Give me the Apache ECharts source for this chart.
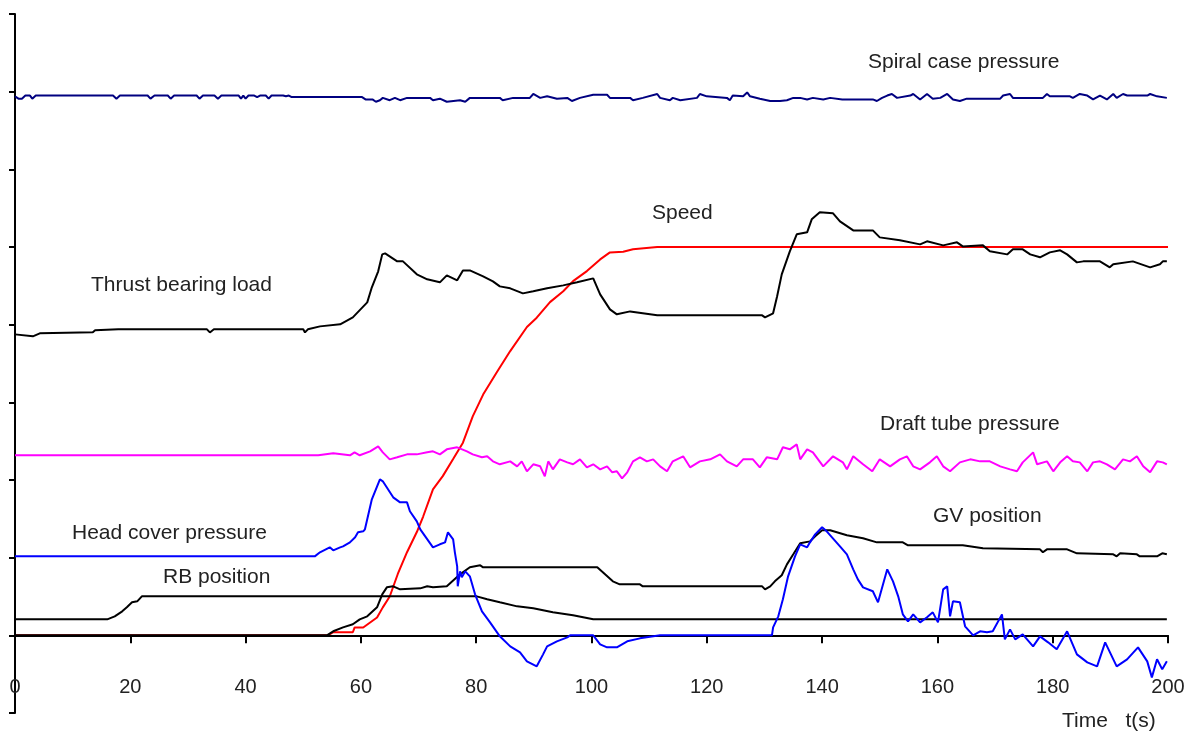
<!DOCTYPE html>
<html>
<head>
<meta charset="utf-8">
<script src="https://cdn.jsdelivr.net/npm/echarts@6/dist/echarts.min.js"></script>
<style>
  html, body { margin: 0; padding: 0; background: #ffffff; }
  #chart { width: 1199px; height: 733px; }
</style>
</head>
<body>
<div id="chart"></div>
<script>
// Time axis ticks (s)
const timeTicks = [0, 20, 40, 60, 80, 100, 120, 140, 160, 180, 200];

// Each record is [time (s), relative level]; one vertical division = 1 unit.
const spiralCasePressure = [
  [0,6.94],[0.6,6.91],[1.2,6.91],[1.8,6.95],[2.6,6.95],[3,6.91],[3.6,6.95],[17,6.95],[17.6,6.91],[18.2,6.95],
  [23,6.95],[23.5,6.91],[24.2,6.95],[26.5,6.95],[27,6.91],[27.6,6.95],[31.5,6.95],[32,6.91],[32.6,6.95],
  [34.6,6.95],[35.2,6.91],[35.8,6.95],[38.8,6.95],[39.2,6.91],[39.6,6.95],[40,6.91],[40.5,6.95],[41.5,6.95],
  [42,6.93],[42.5,6.95],[43.5,6.95],[44,6.91],[44.5,6.95],[46.5,6.95],[47,6.94],[47.5,6.95],[48,6.93],
  [60.2,6.93],[60.8,6.90],[62,6.90],[62.6,6.87],[63.3,6.89],[63.8,6.92],[65,6.89],[65.9,6.92],[66.8,6.89],
  [68,6.92],[72,6.92],[72.5,6.89],[73.7,6.91],[74.9,6.87],[77.2,6.89],[78.1,6.87],[78.9,6.92],[84.1,6.92],
  [84.6,6.89],[86.4,6.92],[89.3,6.92],[89.9,6.97],[91.1,6.92],[92.3,6.94],[94,6.91],[95.8,6.92],[96.6,6.88],
  [98,6.92],[100.3,6.96],[102.7,6.96],[103.2,6.92],[106.7,6.92],[107.2,6.89],[108.9,6.92],[111.4,6.97],
  [111.9,6.92],[113.6,6.89],[114.1,6.92],[115.4,6.89],[118.3,6.92],[118.8,6.97],[120,6.94],[123.5,6.92],
  [124,6.89],[124.5,6.95],[126.3,6.94],[127,6.99],[127.5,6.94],[129.2,6.91],[131,6.88],[132.7,6.88],
  [133.9,6.89],[135,6.92],[136.2,6.92],[137.4,6.90],[138.4,6.92],[140.2,6.90],[141.4,6.92],[143.5,6.90],
  [148.8,6.90],[149.5,6.88],[150.4,6.92],[151.3,6.95],[152.1,6.97],[153,6.92],[155.3,6.95],[155.8,6.97],
  [157,6.90],[158.2,6.97],[159.2,6.91],[160.5,6.92],[161.7,6.97],[162.7,6.90],[163.9,6.88],[165.1,6.91],
  [170.9,6.91],[171.4,6.95],[172.6,6.97],[173.1,6.92],[178.3,6.92],[179,6.97],[179.5,6.94],[183,6.94],
  [183.5,6.92],[184.7,6.97],[186,6.95],[187,6.90],[188.2,6.95],[189.4,6.90],[190.5,6.97],[191.1,6.92],
  [192.2,6.97],[192.9,6.95],[196.4,6.95],[196.9,6.97],[198.1,6.94],[199.8,6.92]
];

const speed = [
  [0,0],[54.3,0],[55.2,0.04],[58.6,0.04],[58.9,0.10],[60.4,0.10],[62.8,0.23],[63.8,0.36],[65,0.50],
  [66.4,0.79],[68,1.07],[69.7,1.33],[70.8,1.53],[72.5,1.88],[74.2,2.05],[76,2.27],[77.7,2.48],[79.4,2.82],
  [81.2,3.10],[83.6,3.39],[85.9,3.66],[88.8,3.97],[90.5,4.09],[92.8,4.29],[95.1,4.43],[96.8,4.56],
  [99.2,4.69],[101.5,4.84],[103.2,4.93],[105.5,4.94],[107.2,4.97],[111.4,5.0],[200,5.0]
];

const thrustBearingLoad = [
  [0,3.875],[3.1,3.850],[4.3,3.888],[13.5,3.901],[13.9,3.927],[17.9,3.940],[33.3,3.940],[33.8,3.90],
  [34.5,3.94],[50,3.94],[50.3,3.90],[50.8,3.94],[52.9,3.978],[56.4,4.004],[58.6,4.094],[61.1,4.287],
  [61.9,4.481],[63.0,4.687],[63.7,4.905],[64.2,4.918],[66.3,4.815],[67.3,4.815],[69.7,4.648],[71.5,4.584],
  [73.7,4.545],[74.9,4.635],[76.7,4.571],[77.7,4.699],[78.9,4.699],[81.2,4.622],[82.9,4.558],[84.1,4.493],
  [85.9,4.468],[88.1,4.403],[89.9,4.429],[92.3,4.468],[95.1,4.506],[97.5,4.545],[100.3,4.596],[101.5,4.390],
  [103.2,4.197],[104.4,4.133],[106.7,4.171],[111.4,4.120],[129.6,4.120],[130.1,4.094],[131.5,4.146],
  [132.2,4.365],[133.0,4.648],[134.4,4.944],[135.6,5.163],[137.4,5.189],[138.2,5.356],[139.6,5.446],
  [141.9,5.433],[143.1,5.330],[145.4,5.214],[148.8,5.214],[150.0,5.124],[153.5,5.086],[157.0,5.034],
  [158.2,5.073],[161.0,5.021],[163.4,5.060],[164.4,5.008],[167.9,5.021],[169.1,4.944],[172.1,4.905],
  [173.1,4.970],[174.8,4.970],[176.1,4.905],[177.8,4.867],[179.5,4.931],[181.3,4.957],[182.5,4.905],
  [184.2,4.802],[185.3,4.815],[188.2,4.815],[189.9,4.738],[190.5,4.777],[193.9,4.815],[196.9,4.738],
  [198.6,4.777],[199.1,4.815],[199.8,4.815]
];

const draftTubePressure = [
  [0,2.318],[52.6,2.318],[52.9,2.343],[55.2,2.343],[55.5,2.318],[58.1,2.318],[58.9,2.356],[59.8,2.318],
  [61.6,2.369],[63.0,2.433],[63.8,2.356],[65.0,2.266],[66.3,2.292],[68.0,2.330],[69.7,2.330],[71.5,2.356],
  [72.5,2.369],[73.7,2.330],[74.9,2.395],[76.7,2.421],[78.4,2.369],[79.4,2.330],[81.0,2.292],[81.9,2.305],
  [82.9,2.240],[84.1,2.202],[85.9,2.240],[87.1,2.176],[87.9,2.240],[88.8,2.112],[89.9,2.202],[91.1,2.176],
  [91.9,2.047],[92.5,2.240],[93.3,2.137],[94.5,2.266],[95.8,2.227],[96.8,2.202],[98.0,2.266],[99.2,2.163],
  [100.3,2.202],[101.5,2.137],[102.7,2.176],[103.6,2.099],[104.4,2.112],[105.3,2.021],[106.2,2.099],
  [107.2,2.240],[108.4,2.292],[109.6,2.240],[110.7,2.266],[111.9,2.176],[113.1,2.112],[114.1,2.240],
  [115.9,2.305],[117.1,2.163],[118.8,2.240],[120.6,2.266],[122.3,2.330],[123.5,2.240],[125.2,2.176],
  [126.3,2.266],[128.0,2.266],[129.2,2.163],[130.4,2.292],[132.2,2.266],[133.2,2.421],[134.4,2.395],
  [135.6,2.459],[136.2,2.266],[137.4,2.395],[138.4,2.356],[140.2,2.176],[141.9,2.305],[143.6,2.227],
  [144.3,2.137],[145.4,2.305],[147.1,2.202],[148.7,2.112],[150.0,2.266],[151.8,2.176],[153.5,2.266],
  [154.7,2.305],[155.8,2.176],[157.0,2.137],[158.7,2.227],[159.9,2.305],[161.0,2.176],[162.2,2.112],
  [163.9,2.227],[165.7,2.266],[167.4,2.240],[169.1,2.240],[170.9,2.176],[172.6,2.137],[173.8,2.112],
  [174.8,2.227],[176.6,2.356],[177.3,2.202],[179.0,2.240],[180.1,2.112],[181.3,2.227],[182.5,2.305],
  [183.5,2.240],[184.7,2.227],[186.0,2.112],[187.0,2.227],[188.2,2.240],[189.4,2.202],[190.8,2.137],
  [192.2,2.266],[193.4,2.240],[194.6,2.305],[195.7,2.176],[196.9,2.099],[198.1,2.240],[199.1,2.227],
  [199.8,2.202]
];

const headCoverPressure = [
  [0,1.017],[52.0,1.017],[52.9,1.069],[54.6,1.133],[55.2,1.094],[56.4,1.133],[56.9,1.146],[58.1,1.197],
  [59.0,1.262],[59.5,1.326],[60.4,1.339],[60.7,1.365],[61.9,1.751],[63.3,2.009],[63.8,1.983],[65.6,1.777],
  [66.8,1.712],[68.0,1.712],[68.5,1.597],[69.7,1.468],[70.3,1.365],[72.5,1.133],[73.7,1.172],[74.6,1.197],
  [75.1,1.326],[76.0,1.236],[76.3,1.069],[76.7,0.888],[76.8,0.631],[77.2,0.824],[77.5,0.747],[78.1,0.824],
  [78.9,0.760],[79.8,0.528],[81.0,0.309],[82.4,0.167],[84.1,-0.013],[85.9,-0.142],[87.6,-0.219],
  [88.8,-0.335],[90.5,-0.399],[91.6,-0.245],[92.3,-0.142],[94.0,-0.077],[95.8,-0.026],[96.3,0],[100.3,0],
  [101.5,-0.116],[102.7,-0.155],[104.4,-0.155],[106.2,-0.077],[108.4,-0.039],[111.9,0],[131.3,0],
  [131.5,0.103],[132.4,0.245],[133.2,0.464],[134.1,0.760],[135.3,1.017],[136.2,1.172],[137.4,1.133],
  [137.9,1.197],[138.8,1.300],[140.0,1.391],[140.8,1.339],[143.1,1.146],[144.3,1.043],[145.4,0.850],
  [146.2,0.721],[147.1,0.618],[148.8,0.567],[149.7,0.425],[151.3,0.850],[152.3,0.695],[153.2,0.502],
  [154.0,0.270],[154.9,0.180],[155.8,0.270],[157.0,0.167],[158.2,0.232],[159.2,0.296],[160.1,0.167],
  [161.0,0.592],[161.7,0.631],[162.2,0.245],[162.7,0.438],[163.9,0.425],[164.8,0.116],[166.2,0],
  [167.4,0.052],[168.6,0.039],[169.6,0.052],[171.2,0.270],[171.7,-0.052],[172.6,0.077],[173.5,-0.052],
  [174.8,0.013],[176.6,-0.142],[177.8,-0.013],[179.2,-0.090],[180.7,-0.180],[182.5,0.052],[184.2,-0.245],
  [186.0,-0.348],[187.7,-0.399],[189.1,-0.090],[191.1,-0.399],[192.9,-0.309],[194.8,-0.155],[196.4,-0.335],
  [197.2,-0.541],[198.1,-0.309],[199.0,-0.438],[199.8,-0.335]
];

const gvPosition = [
  [0,0],[54.1,0],[55.2,0.052],[56.9,0.103],[58.6,0.142],[59.8,0.206],[61.1,0.245],[62.8,0.361],[63.7,0.528],
  [64.5,0.618],[65.6,0.631],[66.8,0.592],[70.3,0.605],[71.5,0.631],[72.5,0.618],[74.9,0.631],[77.2,0.785],
  [78.9,0.876],[80.7,0.901],[81.2,0.876],[101.0,0.876],[103.7,0.695],[104.9,0.657],[108.4,0.657],
  [108.9,0.631],[129.6,0.631],[130.1,0.592],[131.0,0.631],[131.8,0.695],[133.0,0.773],[133.9,0.914],
  [135.0,1.043],[136.2,1.185],[137.9,1.210],[138.8,1.275],[140.0,1.352],[141.4,1.352],[144.3,1.288],
  [147.1,1.249],[149.5,1.197],[154.0,1.197],[154.9,1.159],[164.4,1.159],[167.9,1.120],[177.8,1.107],
  [178.3,1.069],[179.0,1.107],[182.5,1.107],[184.2,1.056],[190.5,1.043],[191.1,1.017],[191.7,1.056],
  [194.6,1.043],[195.1,1.017],[198.1,1.017],[199.0,1.056],[199.8,1.043]
];

const rbPosition = [
  [0,0.206],[16.0,0.206],[17.3,0.245],[18.6,0.309],[19.4,0.361],[20.3,0.425],[21.2,0.438],[22.0,0.502],
  [80.1,0.502],[81.9,0.464],[84.1,0.425],[87.1,0.373],[89.9,0.348],[93.3,0.296],[96.8,0.258],[100.3,0.206],
  [199.8,0.206]
];

// Curve annotations and axis title
const curveNames = {
  spiral: 'Spiral case pressure',
  speed: 'Speed',
  thrust: 'Thrust bearing load',
  draft: 'Draft tube pressure',
  head: 'Head cover pressure',
  gv: 'GV position',
  rb: 'RB position'
};
const timeTitle = 'Time   t(s)';

const FONT = '"Liberation Sans", Arial, sans-serif';
const TEXT_COLOR = '#222222';

function line(name, data, color, z) {
  return {
    name: name,
    type: 'line',
    data: data,
    showSymbol: false,
    symbol: 'none',
    smooth: false,
    z: z,
    lineStyle: { color: color, width: 2 },
    emphasis: { disabled: true }
  };
}

function note(text, x, y, size) {
  return {
    type: 'text',
    x: x,
    y: y,
    silent: true,
    style: {
      text: text,
      fill: TEXT_COLOR,
      font: (size || 21) + 'px ' + FONT,
      verticalAlign: 'middle',
      textVerticalAlign: 'middle'
    }
  };
}

const chart = echarts.init(document.getElementById('chart'), null, { renderer: 'canvas' });

chart.setOption({
  animation: false,
  backgroundColor: '#ffffff',
  textStyle: { fontFamily: FONT },
  grid: { left: 15, right: 31, top: 14, bottom: 20, containLabel: false, outerBoundsMode: 'none' },
  xAxis: {
    type: 'value',
    z: 1,
    min: timeTicks[0],
    max: timeTicks[timeTicks.length - 1],
    interval: timeTicks[1] - timeTicks[0],
    axisLine: { show: true, onZero: true, lineStyle: { color: '#000', width: 2 } },
    axisTick: { show: true, inside: false, length: 8, lineStyle: { color: '#000', width: 2 } },
    // tick values sit just above the lower end of the vertical axis
    axisLabel: { show: true, margin: -36, fontSize: 20, color: TEXT_COLOR, fontFamily: FONT },
    splitLine: { show: false }
  },
  yAxis: {
    type: 'value',
    z: 1,
    min: -1,
    max: 8,
    interval: 1,
    axisLine: { show: true, onZero: false, lineStyle: { color: '#000', width: 2 } },
    axisTick: { show: true, inside: false, length: 6, lineStyle: { color: '#000', width: 2 } },
    axisLabel: { show: false },
    splitLine: { show: false }
  },
  series: [
    line(curveNames.speed, speed, '#ff0000', 0),
    line(curveNames.rb, rbPosition, '#000000', 2),
    line(curveNames.gv, gvPosition, '#000000', 2),
    line(curveNames.thrust, thrustBearingLoad, '#000000', 3),
    line(curveNames.draft, draftTubePressure, '#ff00ff', 3),
    line(curveNames.head, headCoverPressure, '#0000ff', 4),
    line(curveNames.spiral, spiralCasePressure, '#000080', 3)
  ],
  graphic: [
    note(curveNames.spiral, 868, 62),
    note(curveNames.speed, 652, 213),
    note(curveNames.thrust, 91, 285),
    note(curveNames.draft, 880, 424),
    note(curveNames.head, 72, 533),
    note(curveNames.gv, 933, 516),
    note(curveNames.rb, 163, 577),
    note(timeTitle, 1062, 721)
  ]
});
</script>
</body>
</html>
